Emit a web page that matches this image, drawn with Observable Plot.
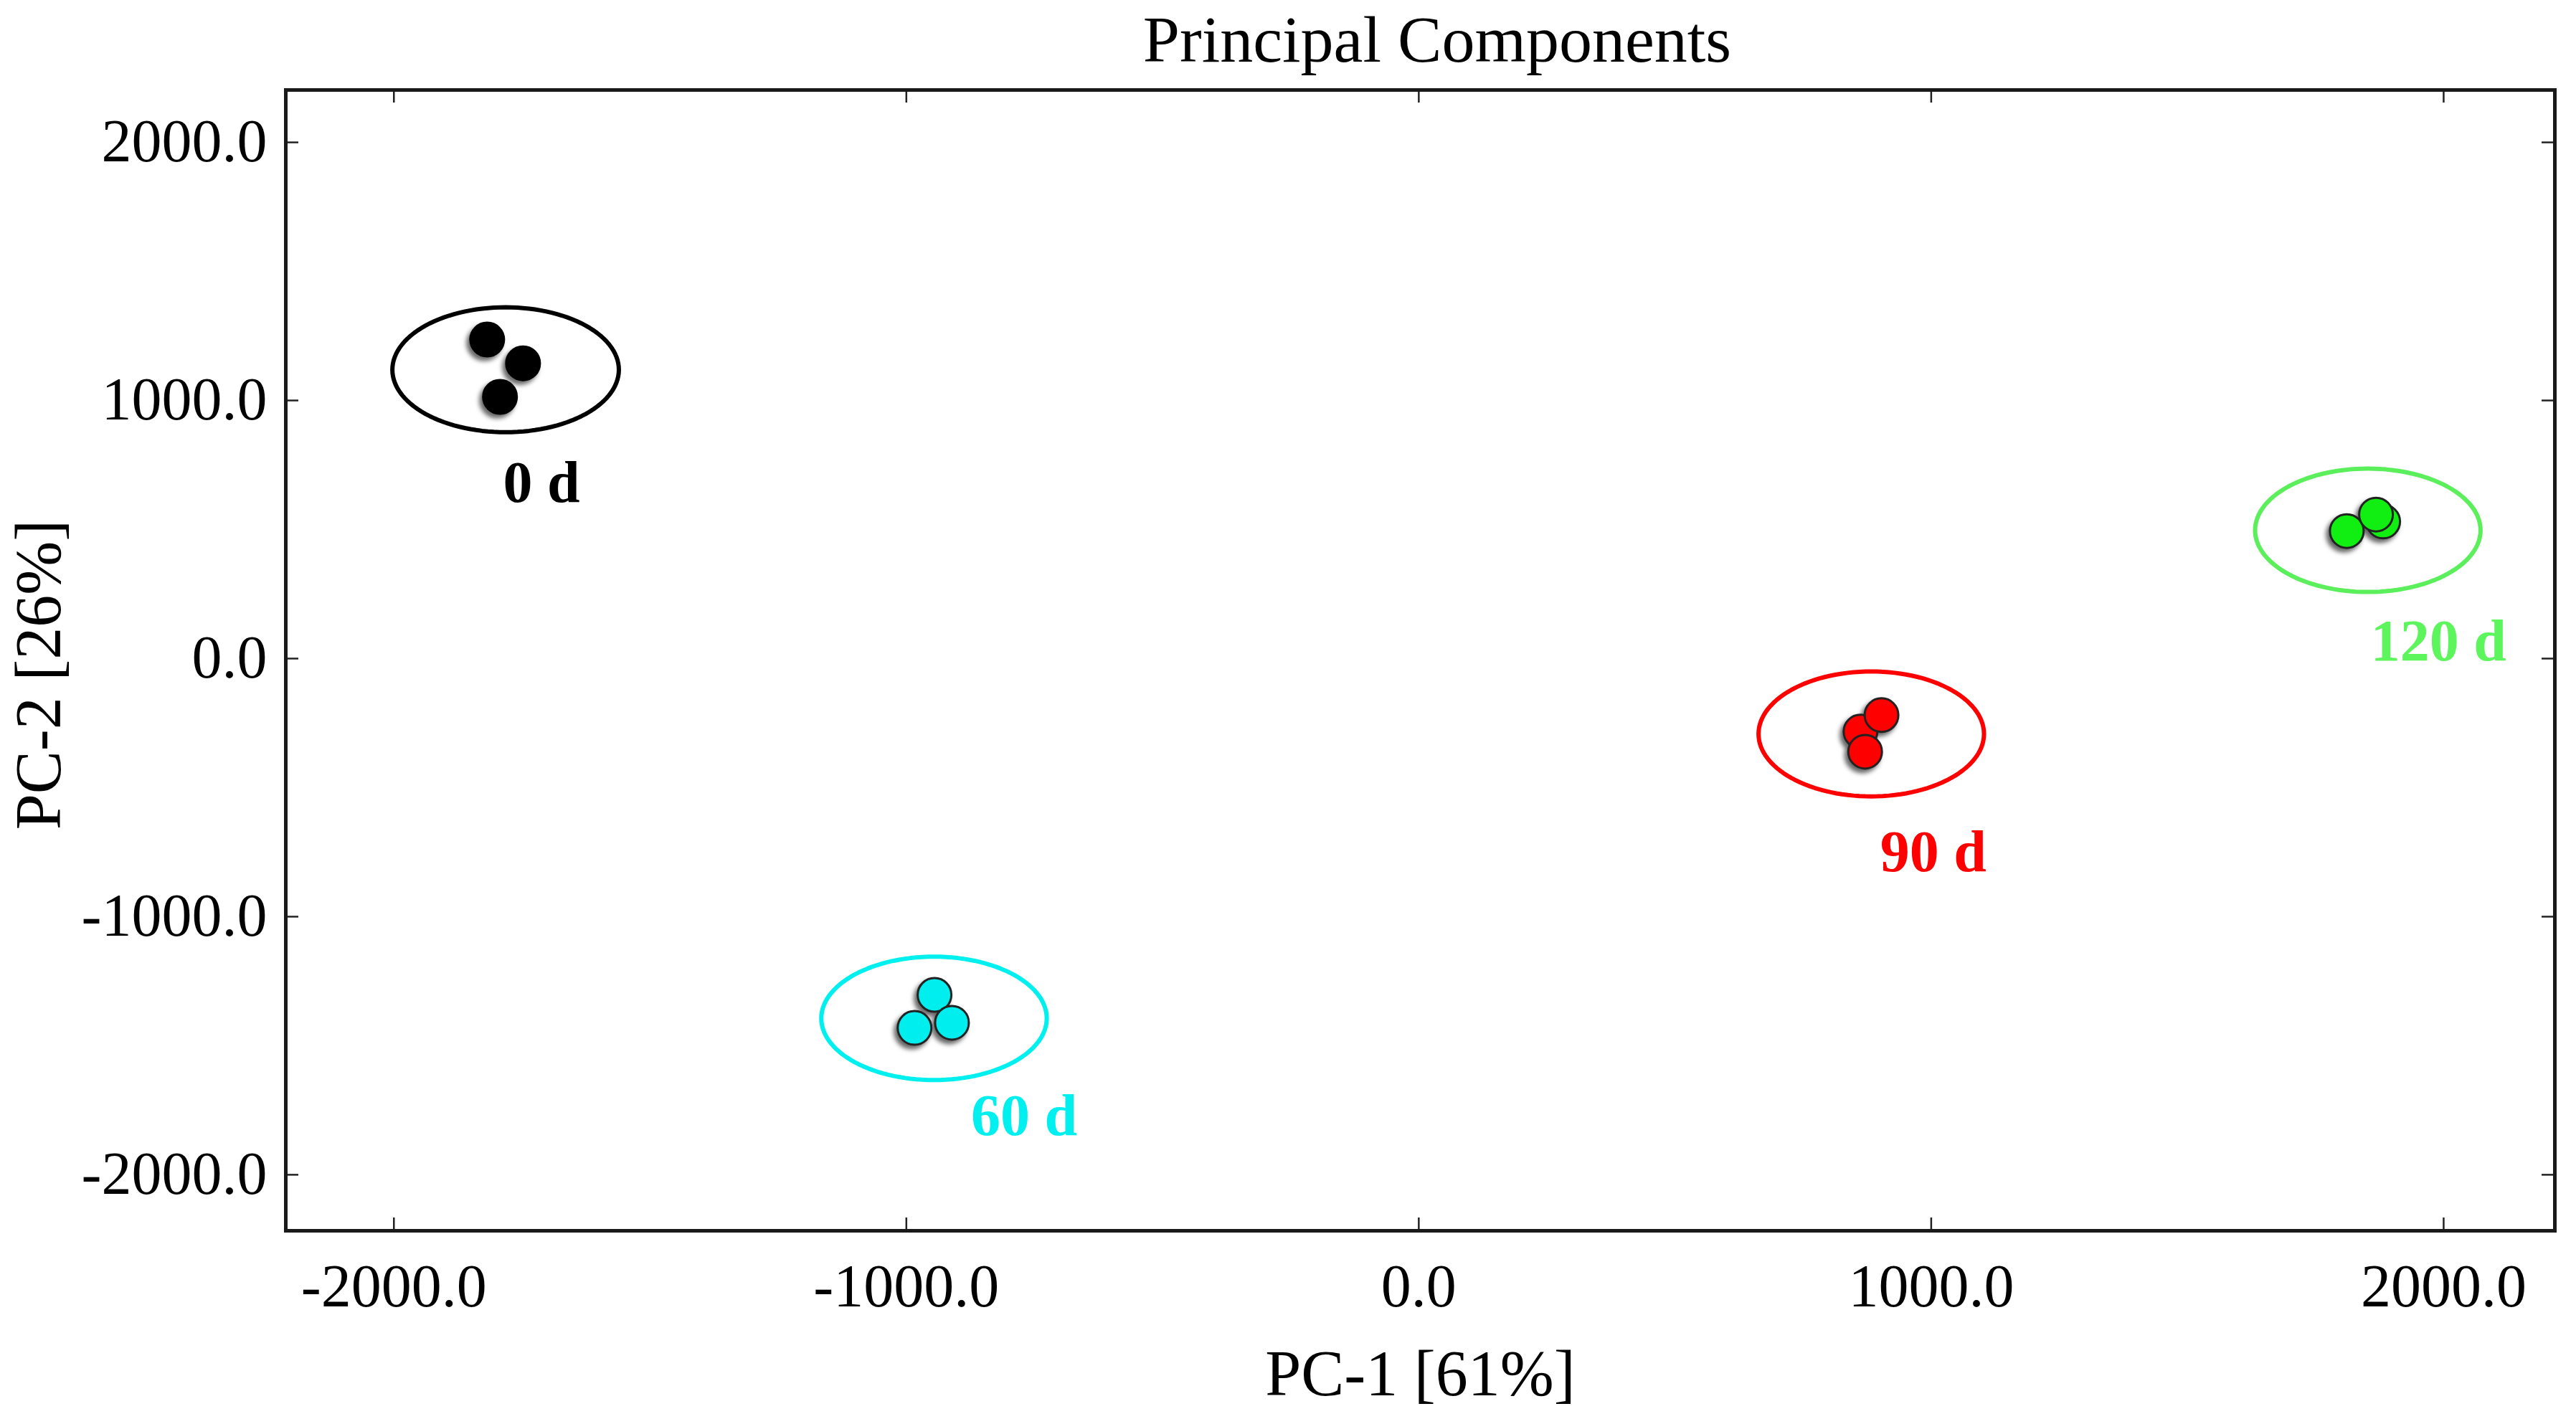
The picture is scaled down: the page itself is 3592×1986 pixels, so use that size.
<!DOCTYPE html>
<html>
<head>
<meta charset="utf-8">
<script src="https://cdn.jsdelivr.net/npm/d3@7"></script>
<script src="https://cdn.jsdelivr.net/npm/@observablehq/plot@0.6"></script>
<style>
  html, body { margin: 0; padding: 0; background: #fff; }
  #title {
    width: 3592px; height: 110px; line-height: 110px;
    box-sizing: border-box; padding-left: 416px;
    text-align: center; font-family: "Liberation Serif", "Times New Roman", serif;
    font-size: 92px; color: #000; white-space: nowrap;
  }
</style>
</head>
<body>
<div id="title">Principal Components</div>
<div id="chart"></div>
<script>
// ---- data ----
const groups = ["0 d", "60 d", "90 d", "120 d"];
const pointFill = ["#000000", "#00eeee", "#ff0000", "#11ee11"];
const pointStroke = ["#000000", "#222222", "#222222", "#222222"];
const ellipseColor = ["#000000", "#00f0f0", "#ff0000", "#5cef5c"];
const labelColor = ["#000000", "#00f0f0", "#ff0000", "#5cf55c"];

const pointGroup = ["0 d", "0 d", "0 d", "60 d", "60 d", "60 d", "90 d", "90 d", "90 d", "120 d", "120 d", "120 d"];
const pc1 = [-1818, -1748, -1793, -945, -984, -911, 862, 903, 871, 1882, 1811, 1868];
const pc2 = [1236, 1144, 1014, -1303, -1431, -1411, -283, -219, -361, 531, 494, 558];

const ellipseCx = [-1782, -946, 883, 1852];
const ellipseCy = [1119, -1394, -292, 497];
const ellipseRx = [221, 220, 220, 220];
const ellipseRy = [242, 239, 242, 239];

const labelX = [-1712, -770, 1004, 1990];
const labelY = [606, -1847, -825, -6];

const xTicks = [-2000, -1000, 0, 1000, 2000];
const yTicks = [-2000, -1000, 0, 1000, 2000];
const xDomain = [-2211, 2217];
const yDomain = [-2217, 2203];
const xLabel = "PC-1 [61%]";
const yLabel = "PC-2 [26%]";

// ---- derived tables ----
const points = pc1.map((x, i) => ({group: pointGroup[i], x, y: pc2[i]}));
const ellipseOutline = groups.flatMap((g, i) =>
  d3.range(0, 361, 3).map(a => {
    const t = a * Math.PI / 180;
    return {group: g, x: ellipseCx[i] + ellipseRx[i] * Math.cos(t), y: ellipseCy[i] + ellipseRy[i] * Math.sin(t)};
  })
);
const labels = groups.map((g, i) => ({text: g, x: labelX[i], y: labelY[i]}));

const fmt = d => d.toFixed(1);
const W = 3592, H = 1876;
const mL = 398, mR = 30, mT = 15, mB = 270;
const innerH = H - mT - mB, innerW = W - mL - mR;
const tickLen = 18;
const serif = "'Liberation Serif', 'Times New Roman', serif";

const marks = [];
groups.forEach((g, i) => {
  marks.push(Plot.line(ellipseOutline.filter(d => d.group === g), {x: "x", y: "y", stroke: ellipseColor[i], strokeWidth: 6}));
});
groups.forEach((g, i) => {
  marks.push(Plot.dot(points.filter(d => d.group === g), {
    x: "x", y: "y", r: 23.5, fill: pointFill[i], stroke: pointStroke[i], strokeWidth: 3,
    imageFilter: "drop-shadow(-4px 5px 3px rgba(0,0,0,0.6))"
  }));
});
groups.forEach((g, i) => {
  marks.push(Plot.text([labels[i]], {x: "x", y: "y", text: "text", fill: labelColor[i], fontWeight: "bold", fontSize: 82, fontFamily: serif, lineAnchor: "bottom"}));
});

const chart = Plot.plot({
  width: W, height: H,
  marginLeft: mL, marginRight: mR, marginTop: mT, marginBottom: mB,
  style: {fontFamily: serif, fontSize: "84px", color: "#000", background: "#fff"},
  x: {domain: xDomain},
  y: {domain: yDomain},
  marks: [
    ...marks,
    // inward ticks
    Plot.tickX(xTicks, {x: d => d, insetTop: innerH - tickLen, stroke: "#222", strokeWidth: 2.5}),
    Plot.tickX(xTicks, {x: d => d, insetBottom: innerH - tickLen, stroke: "#222", strokeWidth: 2.5}),
    Plot.tickY(yTicks, {y: d => d, insetRight: innerW - tickLen, stroke: "#222", strokeWidth: 2.5}),
    Plot.tickY(yTicks, {y: d => d, insetLeft: innerW - tickLen, stroke: "#222", strokeWidth: 2.5}),
    Plot.axisX({ticks: xTicks, tickSize: 0, tickPadding: 46, tickFormat: fmt, label: null, fontSize: 84}),
    Plot.axisY({ticks: yTicks, tickSize: 0, tickPadding: 26, tickFormat: fmt, label: null, fontSize: 84}),
    Plot.frame({stroke: "#1a1a1a", strokeWidth: 5}),
    Plot.text([xLabel], {frameAnchor: "bottom", dy: 229, lineAnchor: "bottom", textAnchor: "middle", text: d => d, fontSize: 90, fontFamily: serif}),
    Plot.text([yLabel], {frameAnchor: "left", dx: -315, dy: 20, rotate: -90, lineAnchor: "bottom", textAnchor: "middle", text: d => d, fontSize: 90, fontFamily: serif})
  ]
});
document.getElementById("chart").appendChild(chart);
</script>
</body>
</html>
